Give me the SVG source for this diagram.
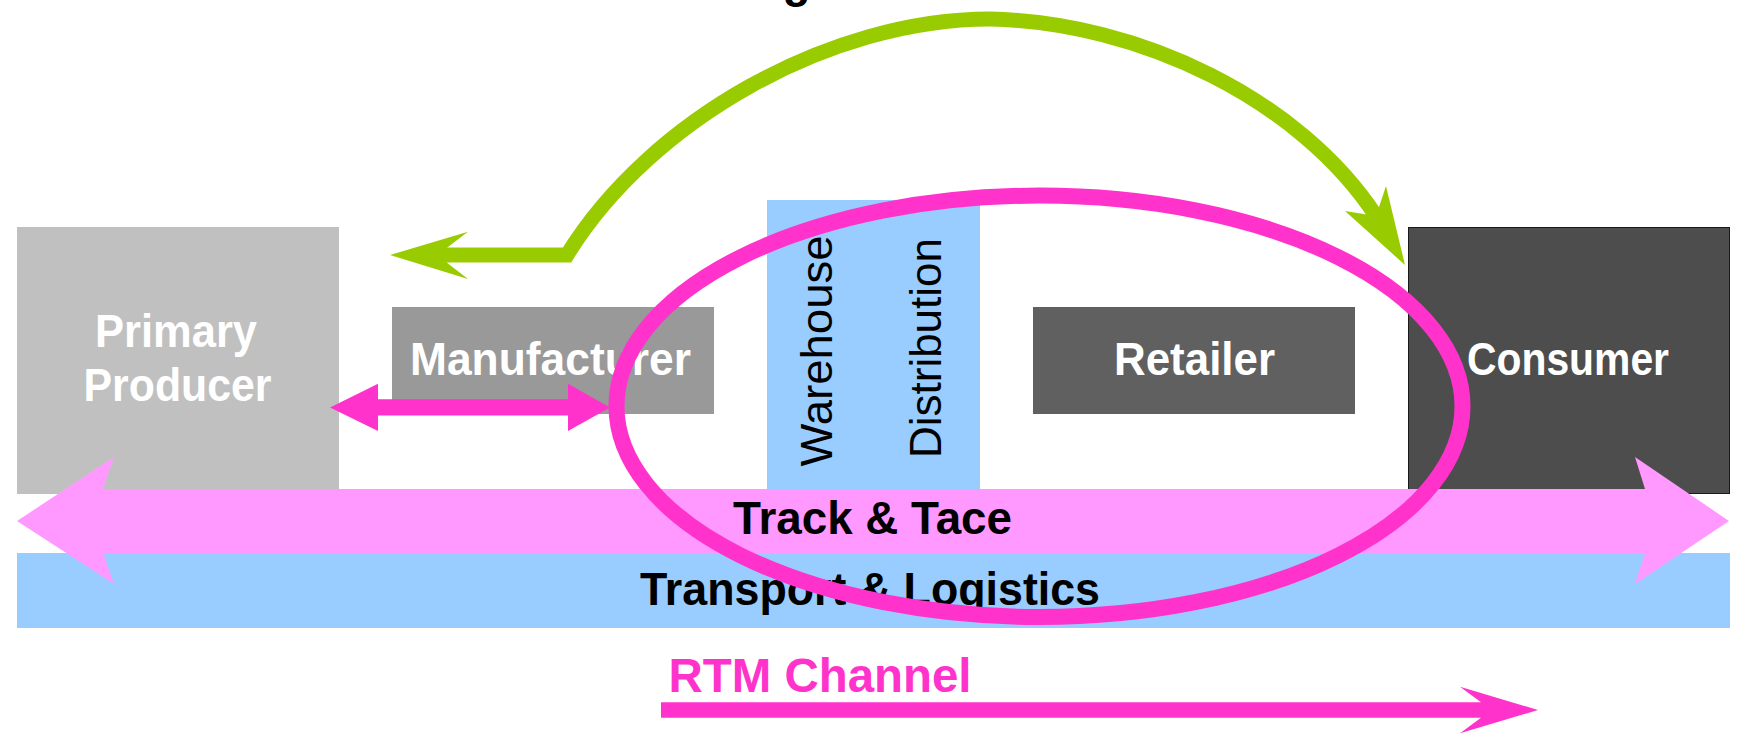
<svg xmlns="http://www.w3.org/2000/svg" width="1745" height="735" viewBox="0 0 1745 735">
  <style>
    .w { font-family: "Liberation Sans", Arial, sans-serif; font-weight: bold; font-size: 46px; fill: #FFFFFF; text-anchor: middle; }
    .v { font-family: "Liberation Sans", Arial, sans-serif; font-size: 45px; fill: #000000; text-anchor: middle; }
    .b { font-family: "Liberation Sans", Arial, sans-serif; font-weight: bold; font-size: 46px; fill: #000000; text-anchor: middle; }
    .pk { font-family: "Liberation Sans", Arial, sans-serif; font-weight: bold; font-size: 48px; fill: #FF33CC; text-anchor: middle; }
  </style>
  <rect width="1745" height="735" fill="#FFFFFF"/>

  <text class="b" x="796.5" y="-3">g</text>

  <g id="node-primary-producer">
    <rect x="17" y="227" width="322" height="267" fill="#C0C0C0"/>
    <text class="w" x="176" y="347" textLength="162" lengthAdjust="spacingAndGlyphs">Primary</text>
    <text class="w" x="177.5" y="401" textLength="188" lengthAdjust="spacingAndGlyphs">Producer</text>
  </g>

  <g id="node-manufacturer">
    <rect x="392" y="307" width="322" height="107" fill="#999999"/>
    <text class="w" x="550.5" y="375" textLength="281" lengthAdjust="spacingAndGlyphs">Manufacturer</text>
  </g>

  <g id="node-warehouse-distribution">
    <rect x="767" y="200" width="213" height="300" fill="#99CCFF"/>
    <text class="v" transform="translate(832,351) rotate(-90)" textLength="231" lengthAdjust="spacingAndGlyphs">Warehouse</text>
    <text class="v" transform="translate(941,348) rotate(-90)" textLength="220" lengthAdjust="spacingAndGlyphs">Distribution</text>
  </g>

  <g id="node-retailer">
    <rect x="1033" y="307" width="322" height="107" fill="#606060"/>
    <text class="w" x="1194.5" y="375" textLength="161" lengthAdjust="spacingAndGlyphs">Retailer</text>
  </g>

  <g id="node-consumer">
    <rect x="1408.5" y="227.5" width="321" height="266" fill="#4D4D4D" stroke="#1A1A1A" stroke-width="1"/>
    <text class="w" x="1568" y="375" textLength="202" lengthAdjust="spacingAndGlyphs">Consumer</text>
  </g>

  <g id="node-transport-logistics">
    <rect x="17" y="553" width="1713" height="75" fill="#99CCFF"/>
    <text class="b" x="870" y="604.5" textLength="460" lengthAdjust="spacingAndGlyphs">Transport &amp; Logistics</text>
  </g>

  <g id="node-track-trace">
    <polygon fill="#FF99FF" points="17,521 114,457 103,489 1645,489 1635,457 1729,521 1635,584 1645,553 103,553 114,584"/>
    <text class="b" x="872.5" y="533.5" textLength="279" lengthAdjust="spacingAndGlyphs">Track &amp; Tace</text>
  </g>

  <g id="connectors">
    <path d="M 447 255 L 567 255 C 650 120, 830 19, 990 19 C 1140 22, 1300 100, 1376 216" fill="none" stroke="#99CC00" stroke-width="15" stroke-linejoin="miter"/>
    <polygon fill="#99CC00" points="390,255 468,231.7 447,247.7 447,262.7 468,279"/>
    <polygon fill="#99CC00" points="1405,265 1386,186 1376,216 1345,211"/>
    <polygon fill="#FF33CC" points="330,407.5 378,383.7 378,399.3 568,399.3 568,383.7 610,407.5 568,431 568,415.5 378,415.5 378,431"/>
    <ellipse cx="1039.5" cy="406.3" rx="423" ry="210.7" fill="none" stroke="#FF33CC" stroke-width="16"/>
    <polygon fill="#FF33CC" points="661,702.3 1481,702.3 1460,686.7 1538,710 1460,733.3 1481,717.7 661,717.7"/>
  </g>

  <g id="label-rtm-channel">
    <text class="pk" x="820" y="691.7" textLength="303" lengthAdjust="spacingAndGlyphs">RTM Channel</text>
  </g>
</svg>
